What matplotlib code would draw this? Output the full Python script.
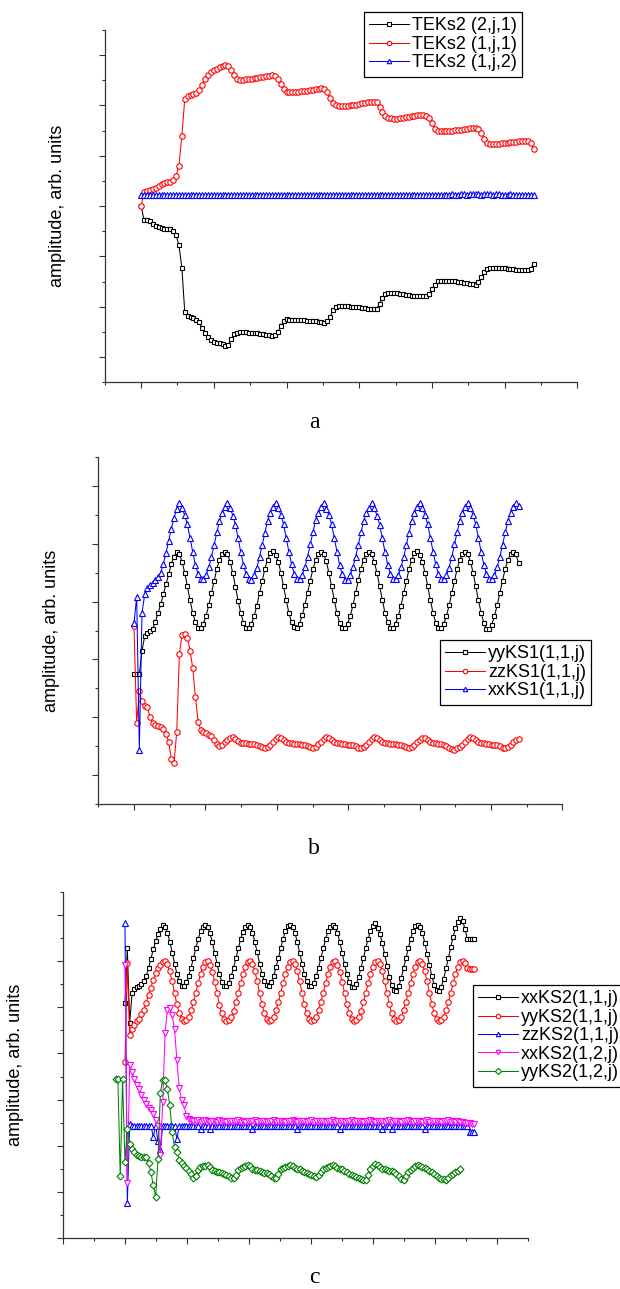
import numpy as np
import matplotlib.pyplot as plt
from matplotlib.ticker import MultipleLocator

# ---------------- panel a : TEKs2 ----------------
a_step = 0.08
a_tek_2j1 = [6.00, 5.44, 5.44, 5.42, 5.30, 5.22, 5.16, 5.12, 5.11, 5.11,
             5.10, 5.02, 4.85, 4.45, 3.55, 1.80, 1.65, 1.60, 1.54, 1.47,
             1.38, 1.14, 0.96, 0.80, 0.68, 0.62, 0.58, 0.55, 0.51, 0.43,
             0.50, 0.72, 0.90, 0.97, 0.98, 0.98, 0.98, 0.97, 0.97, 0.96,
             0.94, 0.92, 0.90, 0.88, 0.86, 0.84, 0.88, 1.01, 1.22, 1.42,
             1.50, 1.49, 1.48, 1.48, 1.47, 1.47, 1.46, 1.45, 1.44, 1.43,
             1.42, 1.40, 1.38, 1.36, 1.42, 1.58, 1.88, 1.99, 2.02, 2.04,
             2.03, 2.02, 2.01, 2.00, 2.00, 1.98, 1.96, 1.94, 1.93, 1.92,
             1.91, 1.92, 2.13, 2.35, 2.50, 2.53, 2.53, 2.53, 2.53, 2.51,
             2.49, 2.47, 2.45, 2.44, 2.43, 2.43, 2.42, 2.42, 2.42, 2.50,
             2.70, 2.88, 3.02, 3.03, 3.03, 3.03, 3.02, 3.02, 3.01, 3.00,
             2.98, 2.96, 2.94, 2.92, 2.89, 2.86, 2.98, 3.19, 3.40, 3.52,
             3.54, 3.55, 3.55, 3.55, 3.54, 3.53, 3.51, 3.50, 3.49, 3.48,
             3.47, 3.47, 3.46, 3.46, 3.52, 3.72]
a_tek_1j1 = [6.00, 6.58, 6.62, 6.65, 6.69, 6.74, 6.80, 6.87, 6.92, 6.94,
             6.97, 7.05, 7.20, 7.60, 8.80, 10.25, 10.38, 10.42, 10.45, 10.48,
             10.60, 10.81, 11.05, 11.22, 11.35, 11.42, 11.47, 11.51, 11.55, 11.60,
             11.58, 11.40, 11.20, 11.06, 11.02, 11.02, 11.04, 11.06, 11.07, 11.09,
             11.11, 11.13, 11.15, 11.17, 11.19, 11.21, 11.18, 11.05, 10.85, 10.65,
             10.54, 10.53, 10.54, 10.54, 10.55, 10.56, 10.57, 10.58, 10.60, 10.62,
             10.65, 10.67, 10.68, 10.65, 10.55, 10.30, 10.08, 10.00, 9.98, 9.97,
             9.98, 9.99, 10.00, 10.01, 10.02, 10.05, 10.08, 10.10, 10.12, 10.13,
             10.14, 10.14, 9.95, 9.75, 9.58, 9.52, 9.49, 9.48, 9.48, 9.50,
             9.52, 9.54, 9.56, 9.58, 9.60, 9.62, 9.62, 9.61, 9.59, 9.52,
             9.30, 9.08, 9.00, 8.98, 8.98, 8.98, 8.99, 9.00, 9.01, 9.02,
             9.03, 9.05, 9.07, 9.09, 9.10, 9.10, 9.05, 8.89, 8.68, 8.52,
             8.48, 8.46, 8.46, 8.47, 8.49, 8.51, 8.52, 8.53, 8.54, 8.55,
             8.57, 8.58, 8.60, 8.60, 8.52, 8.26]
a_tek_1j2 = [6.46, 6.46, 6.46, 6.46, 6.46, 6.46, 6.46, 6.46, 6.46, 6.46, 6.46, 6.46, 6.46, 6.46, 6.46, 6.46, 6.46,
             6.46, 6.46, 6.46, 6.46, 6.46, 6.46, 6.46, 6.46, 6.46, 6.46, 6.46, 6.46, 6.46, 6.46, 6.46, 6.46, 6.46,
             6.46, 6.46, 6.46, 6.46, 6.46, 6.46, 6.46, 6.46, 6.46, 6.46, 6.46, 6.46, 6.46, 6.46, 6.46, 6.46, 6.46,
             6.46, 6.46, 6.46, 6.46, 6.46, 6.46, 6.46, 6.46, 6.46, 6.46, 6.46, 6.46, 6.46, 6.46, 6.46, 6.46, 6.46,
             6.46, 6.46, 6.46, 6.46, 6.46, 6.46, 6.46, 6.46, 6.46, 6.46, 6.46, 6.46, 6.46, 6.46, 6.46, 6.46, 6.46,
             6.46, 6.46, 6.46, 6.46, 6.46, 6.46, 6.46, 6.46, 6.46, 6.46, 6.46, 6.46, 6.46, 6.46, 6.46, 6.46, 6.46,
             6.46, 6.46, 6.46, 6.46, 6.46, 6.49, 6.46, 6.46, 6.50, 6.48, 6.46, 6.50, 6.50, 6.49, 6.50, 6.46, 6.50,
             6.49, 6.50, 6.46, 6.47, 6.50, 6.46, 6.46, 6.46, 6.49, 6.46, 6.46, 6.46, 6.46, 6.46, 6.46, 6.46, 6.46]
a_labels = ['TEKs2 (2,j,1)', 'TEKs2 (1,j,1)', 'TEKs2 (1,j,2)']

# ---------------- panel b : KS1 ----------------
b_step = 0.0748
b_yy = [3.49, 3.49, 3.49, 4.30, 4.80, 4.93, 5.00, 5.05, 5.30, 5.60, 5.90, 6.25, 6.60, 6.95, 7.30, 7.55, 7.72,
        7.63, 7.38, 6.99, 6.52, 6.04, 5.60, 5.28, 5.10, 5.09, 5.24, 5.51, 5.87, 6.29, 6.72, 7.12, 7.44, 7.65, 7.72,
        7.64, 7.37, 6.98, 6.51, 6.03, 5.60, 5.27, 5.10, 5.08, 5.23, 5.50, 5.86, 6.28, 6.71, 7.12, 7.45, 7.66, 7.73,
        7.62, 7.38, 7.00, 6.53, 6.05, 5.61, 5.28, 5.11, 5.09, 5.24, 5.52, 5.88, 6.30, 6.72, 7.11, 7.43, 7.64, 7.72,
        7.63, 7.39, 6.99, 6.52, 6.04, 5.59, 5.27, 5.09, 5.08, 5.23, 5.51, 5.87, 6.29, 6.73, 7.13, 7.45, 7.65, 7.72,
        7.63, 7.37, 6.98, 6.52, 6.05, 5.60, 5.28, 5.10, 5.09, 5.24, 5.51, 5.86, 6.28, 6.71, 7.12, 7.44, 7.66, 7.73,
        7.62, 7.38, 6.99, 6.53, 6.04, 5.60, 5.27, 5.10, 5.08, 5.22, 5.50, 5.87, 6.29, 6.72, 7.12, 7.44, 7.65, 7.72,
        7.63, 7.38, 6.99, 6.52, 6.04, 5.61, 5.26, 5.06, 5.05, 5.20, 5.51, 5.87, 6.30, 6.72, 7.12, 7.44, 7.65, 7.72,
        7.63, 7.34]
b_zz = [5.14, 1.80, 2.90, 2.55, 2.38, 2.36, 2.00, 1.80, 1.73, 1.70,
        1.68, 1.60, 1.42, 1.15, 0.55, 0.43, 1.50, 4.20, 4.85, 4.87,
        4.75, 4.30, 3.70, 2.70, 1.85, 1.58, 1.50, 1.45, 1.40, 1.35,
        1.22, 1.08, 1.02, 1.05, 1.15, 1.23, 1.30, 1.32, 1.25, 1.17,
        1.13, 1.11, 1.10, 1.09, 1.08, 1.07, 1.06, 1.02, 0.98, 0.94,
        0.98, 1.06, 1.15, 1.24, 1.31, 1.30, 1.22, 1.16, 1.12, 1.10, 1.09, 1.08, 1.07, 1.06, 1.04, 1.01, 0.97, 0.94,
        0.99, 1.07, 1.16, 1.25, 1.31, 1.29, 1.21, 1.15, 1.12, 1.10, 1.09, 1.08, 1.06, 1.05, 1.03, 1.00, 0.96, 0.93,
        0.98, 1.06, 1.14, 1.24, 1.31, 1.30, 1.22, 1.16, 1.12, 1.11, 1.09, 1.07, 1.07, 1.06, 1.04, 1.01, 0.97, 0.94,
        0.99, 1.06, 1.15, 1.23, 1.30, 1.30, 1.22, 1.16, 1.12, 1.10, 1.09, 1.08, 1.06, 1.02, 0.95, 0.90, 0.89, 0.93,
        0.98, 1.06, 1.16, 1.24, 1.31, 1.29, 1.21, 1.16, 1.12, 1.10, 1.08, 1.07, 1.06, 1.05, 1.03, 1.00, 0.96, 0.94,
        0.98, 1.06, 1.15, 1.22, 1.26]
b_xx = [5.25, 6.17, 0.89, 5.60, 6.25, 6.48, 6.58, 6.65, 6.75, 6.85, 7.00, 7.30, 7.68, 8.10, 8.52, 8.90, 9.20, 9.39,
        9.22, 8.98, 8.66, 8.19, 7.71, 7.27, 6.95, 6.77, 6.77, 6.91, 7.18, 7.54, 7.96, 8.39, 8.79, 9.05, 9.25, 9.39,
        9.23, 8.97, 8.65, 8.18, 7.70, 7.27, 6.95, 6.78, 6.76, 6.90, 7.17, 7.53, 7.95, 8.38, 8.78, 9.06, 9.26, 9.40,
        9.22, 8.99, 8.67, 8.20, 7.72, 7.28, 6.96, 6.77, 6.77, 6.92, 7.18, 7.55, 7.97, 8.40, 8.80, 9.05, 9.25, 9.39,
        9.21, 8.98, 8.66, 8.19, 7.71, 7.26, 6.94, 6.76, 6.76, 6.91, 7.19, 7.54, 7.96, 8.39, 8.79, 9.04, 9.24, 9.39,
        9.22, 8.97, 8.65, 8.18, 7.71, 7.27, 6.95, 6.77, 6.77, 6.90, 7.18, 7.53, 7.96, 8.38, 8.78, 9.05, 9.26, 9.40,
        9.23, 8.98, 8.66, 8.19, 7.72, 7.28, 6.95, 6.78, 6.77, 6.91, 7.17, 7.54, 7.97, 8.39, 8.79, 9.05, 9.25, 9.39,
        9.22, 8.98, 8.66, 8.19, 7.71, 7.27, 6.95, 6.77, 6.77, 6.91, 7.18, 7.54, 7.96, 8.39, 8.79, 9.05, 9.25, 9.39,
        9.30]
b_labels = ['yyKS1(1,1,j)', 'zzKS1(1,1,j)', 'xxKS1(1,1,j)']

# ---------------- panel c : KS2 ----------------
c_step = 0.0762
c_xx11 = [8.17, 10.55, 7.30, 8.60, 8.80, 8.86, 8.92, 9.00, 9.15, 9.35, 9.70, 10.10, 10.50, 10.85, 11.15, 11.40, 11.56,
          11.47, 11.22, 10.83, 10.36, 9.88, 9.44, 9.12, 8.94, 8.94, 9.08, 9.35, 9.71, 10.13, 10.56, 10.96, 11.28, 11.49, 11.56,
          11.46, 11.21, 10.82, 10.35, 9.87, 9.43, 9.11, 8.93, 8.93, 9.07, 9.34, 9.70, 10.12, 10.55, 10.95, 11.27, 11.48, 11.55,
          11.47, 11.22, 10.84, 10.37, 9.89, 9.45, 9.13, 8.95, 8.94, 9.08, 9.36, 9.72, 10.14, 10.57, 10.97, 11.29, 11.50, 11.56,
          11.46, 11.21, 10.83, 10.36, 9.88, 9.44, 9.12, 8.93, 8.92, 9.06, 9.34, 9.70, 10.12, 10.55, 10.96, 11.28, 11.49, 11.56,
          11.47, 11.22, 10.83, 10.35, 9.87, 9.42, 9.08, 8.88, 8.86, 9.02, 9.32, 9.70, 10.13, 10.56, 10.97, 11.30, 11.52, 11.66,
          11.45, 11.18, 10.78, 10.30, 9.80, 9.32, 8.95, 8.74, 8.72, 8.90, 9.25, 9.68, 10.12, 10.56, 10.97, 11.30, 11.50, 11.58,
          11.46, 11.20, 10.80, 10.31, 9.82, 9.34, 8.97, 8.75, 8.70, 8.88, 9.22, 9.68, 10.15, 10.62, 11.05, 11.42, 11.70, 11.85,
          11.75, 11.40, 10.95, 10.94, 10.94, 10.94]
c_yy11 = [5.64, 9.90, 6.80, 7.05, 7.25, 7.40, 7.50, 7.70, 7.90, 8.20, 8.55, 8.85, 9.20, 9.50, 9.68, 9.82, 9.95, 10.01,
          9.85, 9.55, 9.12, 8.62, 8.12, 7.74, 7.50, 7.42, 7.44, 7.58, 7.86, 8.22, 8.62, 9.04, 9.44, 9.75, 9.95, 10.01,
          9.84, 9.54, 9.11, 8.61, 8.11, 7.73, 7.49, 7.41, 7.43, 7.57, 7.85, 8.21, 8.61, 9.03, 9.43, 9.74, 9.94, 10.00,
          9.86, 9.56, 9.13, 8.63, 8.13, 7.75, 7.51, 7.42, 7.44, 7.59, 7.87, 8.23, 8.63, 9.05, 9.45, 9.76, 9.96, 10.02,
          9.85, 9.55, 9.12, 8.62, 8.12, 7.74, 7.50, 7.41, 7.43, 7.58, 7.86, 8.22, 8.62, 9.04, 9.44, 9.75, 9.95, 10.01,
          9.84, 9.54, 9.11, 8.61, 8.12, 7.73, 7.49, 7.42, 7.44, 7.57, 7.85, 8.21, 8.62, 9.03, 9.44, 9.75, 9.95, 10.01,
          9.85, 9.55, 9.12, 8.62, 8.12, 7.74, 7.50, 7.42, 7.43, 7.58, 7.86, 8.22, 8.62, 9.04, 9.44, 9.75, 9.95, 10.01,
          9.85, 9.55, 9.12, 8.62, 8.12, 7.74, 7.50, 7.42, 7.44, 7.58, 7.86, 8.22, 8.62, 9.04, 9.44, 9.75, 9.95, 10.01,
          9.90, 9.70, 9.65, 9.64, 9.64]
c_zz11 = [11.63, -0.48, 2.95, 2.88, 2.87, 2.87, 2.87, 2.87, 2.87, 2.87,
          2.87, 2.87, 2.40, 2.87, 2.20, 1.82, 2.87, 2.87, 2.87, 2.87,
          2.87, 2.87, 2.30, 2.87, 2.87, 2.87, 2.87, 2.87, 2.87, 2.87,
          2.87, 2.87, 2.72, 2.87, 2.87, 2.87, 2.72, 2.87, 2.87, 2.87,
          2.87, 2.87, 2.87, 2.87, 2.87, 2.87, 2.87, 2.87, 2.87, 2.87,
          2.87, 2.87, 2.87, 2.87, 2.72, 2.87, 2.87, 2.87, 2.87, 2.87,
          2.87, 2.87, 2.87, 2.87, 2.87, 2.87, 2.87, 2.87, 2.87, 2.87,
          2.87, 2.87, 2.87, 2.72, 2.87, 2.87, 2.87, 2.87, 2.87, 2.87,
          2.87, 2.87, 2.87, 2.87, 2.87, 2.87, 2.87, 2.87, 2.87, 2.87,
          2.87, 2.72, 2.87, 2.87, 2.87, 2.87, 2.87, 2.87, 2.87, 2.87,
          2.87, 2.87, 2.87, 2.87, 2.87, 2.87, 2.87, 2.87, 2.87, 2.72,
          2.87, 2.87, 2.87, 2.72, 2.87, 2.87, 2.87, 2.87, 2.87, 2.87,
          2.87, 2.87, 2.87, 2.87, 2.87, 2.87, 2.87, 2.72, 2.87, 2.87,
          2.87, 2.87, 2.87, 2.87, 2.87, 2.87, 2.87, 2.87, 2.87, 2.87,
          2.87, 2.87, 2.87, 2.87, 2.87, 2.87, 2.62, 2.62, 2.62]
c_xx12 = [9.83, 0.40, 5.50, 5.20, 4.90, 4.65, 4.45, 4.20, 4.00, 3.80,
          3.65, 3.55, 3.40, 3.10, 2.85, 1.60, 3.90, 6.90, 7.90, 7.95,
          7.65, 7.05, 5.70, 4.50, 4.00, 3.75, 3.30, 3.15, 3.10, 3.08,
          3.07, 3.10, 3.05, 3.08, 3.11, 3.06, 3.04, 3.09, 3.07, 3.05,
          3.10, 3.08, 3.06, 3.04, 3.07, 3.09, 3.06, 3.08, 3.10, 3.05,
          3.07, 3.04, 3.09, 3.06, 3.08, 3.11, 3.05, 3.07, 3.06, 3.09,
          3.04, 3.08, 3.07, 3.10, 3.05, 3.06, 3.09, 3.07, 3.04, 3.08,
          3.06, 3.10, 3.07, 3.05, 3.09, 3.06, 3.08, 3.04, 3.07, 3.10,
          3.05, 3.08, 3.06, 3.09, 3.07, 3.04, 3.08, 3.06, 3.10, 3.05,
          3.07, 3.09, 3.06, 3.04, 3.08, 3.07, 3.10, 3.05, 3.06, 3.09,
          3.07, 3.04, 3.08, 3.06, 3.10, 3.07, 3.05, 3.09, 3.06, 3.08,
          3.04, 3.07, 3.10, 3.05, 3.06, 3.09, 3.07, 3.04, 3.08, 3.06,
          3.10, 3.07, 3.05, 3.09, 3.06, 3.08, 3.04, 3.07, 3.10, 3.05,
          3.08, 3.06, 3.09, 3.07, 3.04, 3.08, 3.06, 3.10, 3.05, 3.07,
          3.05, 3.06, 3.03, 3.02, 3.00, 2.98, 2.97, 2.96, 2.95]
c_yy12_start = -0.305
c_yy12 = [4.88, 4.88, 0.70, 4.88, 1.30, 2.75, 2.10, 1.88, 1.72, 1.60,
          1.56, 1.53, 1.53, 1.50, 1.25, 0.85, 0.30, -0.20, 1.45, 4.30,
          4.85, 4.85, 4.45, 3.75, 2.60, 1.95, 1.72, 1.40, 1.25, 1.12,
          1.05, 0.92, 0.80, 0.62, 0.70, 0.95, 1.08, 1.12, 1.15, 1.17,
          1.08, 0.95, 0.90, 0.87, 0.85, 0.82, 0.80, 0.75, 0.68, 0.62,
          0.60, 0.75, 0.95, 1.05, 1.10, 1.15, 1.17, 1.12, 1.02, 0.96,
          0.94, 0.90, 0.87, 0.84, 0.82, 0.78, 0.68, 0.62, 0.60, 0.78,
          0.98, 1.05, 1.10, 1.15, 1.17, 1.12, 1.05, 1.02, 0.98, 0.93,
          0.88, 0.84, 0.78, 0.72, 0.68, 0.66, 0.75, 0.88, 0.98, 1.04,
          1.10, 1.15, 1.17, 1.12, 1.05, 1.00, 0.98, 0.92, 0.85, 0.78,
          0.72, 0.68, 0.64, 0.60, 0.58, 0.54, 0.52, 0.75, 1.02, 1.15,
          1.20, 1.18, 1.10, 1.02, 0.98, 0.95, 0.92, 0.90, 0.88, 0.80,
          0.68, 0.58, 0.52, 0.70, 0.85, 0.95, 1.05, 1.15, 1.17, 1.12,
          1.10, 1.05, 0.98, 0.92, 0.88, 0.80, 0.70, 0.62, 0.58, 0.55,
          0.52, 0.62, 0.72, 0.80, 0.85, 0.92, 0.98]
c_labels = ['xxKS2(1,1,j)', 'yyKS2(1,1,j)', 'zzKS2(1,1,j)', 'xxKS2(1,2,j)', 'yyKS2(1,2,j)']

W, H = 620, 1289
fig = plt.figure(figsize=(W / 100, H / 100), dpi=100)
SANS = 'Liberation Sans'
SERIF = 'Liberation Serif'


def px_axes(left, top, right, bottom):
    return fig.add_axes([left / W, 1 - bottom / H, (right - left) / W, (bottom - top) / H])


def style(ax, xlim, ylim):
    ax.set_xlim(*xlim)
    ax.set_ylim(*ylim)
    for s in ['top', 'right']:
        ax.spines[s].set_visible(False)
    for s in ['left', 'bottom']:
        ax.spines[s].set_color('#333333')
        ax.spines[s].set_linewidth(0.9)
    ax.xaxis.set_major_locator(MultipleLocator(2))
    ax.xaxis.set_minor_locator(MultipleLocator(1))
    ax.yaxis.set_major_locator(MultipleLocator(2))
    ax.yaxis.set_minor_locator(MultipleLocator(1))
    ax.tick_params(which='both', direction='out', color='#333333', width=0.8,
                   labelleft=False, labelbottom=False)
    ax.tick_params(which='major', length=4.5)
    ax.tick_params(which='minor', length=2.2)


def series(ax, y, step, color, marker, label, ms=3.6, start=0.0):
    x = start + step * np.arange(len(y))
    ax.plot(x, y, color=color, lw=0.75, marker=marker, ms=ms, mfc='white',
            mec=color, mew=0.8, label=label)


def add_legend(ax, x, y):
    leg = ax.legend(loc='upper left', bbox_to_anchor=(x / W, 1 - y / H),
                    bbox_transform=fig.transFigure, borderaxespad=0,
                    prop={'family': SANS, 'size': 13}, labelspacing=0.08,
                    handlelength=2.2, handletextpad=0.15, borderpad=0.3,
                    fancybox=False, framealpha=1, edgecolor='black', numpoints=1)
    leg.get_frame().set_linewidth(0.9)
    for h in leg.legend_handles:
        h.set_markersize(3.2)


# panel a
ax_a = px_axes(104.8, 30, 577.3, 382.3)
style(ax_a, (-1, 12), (-1, 13))
series(ax_a, a_tek_2j1, a_step, 'black', 's', a_labels[0], ms=3.5)
series(ax_a, a_tek_1j1, a_step, 'red', 'o', a_labels[1], ms=3.9)
series(ax_a, a_tek_1j2, a_step, 'blue', '^', a_labels[2], ms=4.3)
add_legend(ax_a, 364, 12)

# panel b
ax_b = px_axes(98.3, 456.7, 562.4, 804.3)
style(ax_b, (-1, 12), (-1, 11))
series(ax_b, b_yy, b_step, 'black', 's', b_labels[0], ms=3.5)
series(ax_b, b_zz, b_step, 'red', 'o', b_labels[1], ms=3.9)
series(ax_b, b_xx, b_step, 'blue', '^', b_labels[2], ms=4.3)
add_legend(ax_b, 440, 640)

# panel c
ax_c = px_axes(63, 891.7, 527.7, 1238.3)
style(ax_c, (-2, 13), (-2, 13))
series(ax_c, c_xx11, c_step, 'black', 's', c_labels[0], ms=3.5)
series(ax_c, c_yy11, c_step, 'red', 'o', c_labels[1], ms=3.9)
series(ax_c, c_zz11, c_step, 'blue', '^', c_labels[2], ms=4.3)
series(ax_c, c_xx12, c_step, '#ff00ff', 'v', c_labels[3], ms=4.3)
series(ax_c, c_yy12, c_step, '#008000', 'D', c_labels[4], ms=3.5, start=c_yy12_start)
add_legend(ax_c, 473, 985)

# y labels and panel letters
for xl, yl in [(57.5, 206), (51.3, 630.5), (16, 1065)]:
    fig.text(xl / W, 1 - yl / H, 'amplitude, arb. units', rotation=90,
             ha='center', va='center', family=SANS, fontsize=13)
for letter, xl, yl in [('a', 314, 428), ('b', 314, 854), ('c', 314, 1283)]:
    fig.text(xl / W, 1 - yl / H, letter, ha='center', va='baseline',
             family=SERIF, fontsize=17)

fig.savefig('out.png', dpi=100)
